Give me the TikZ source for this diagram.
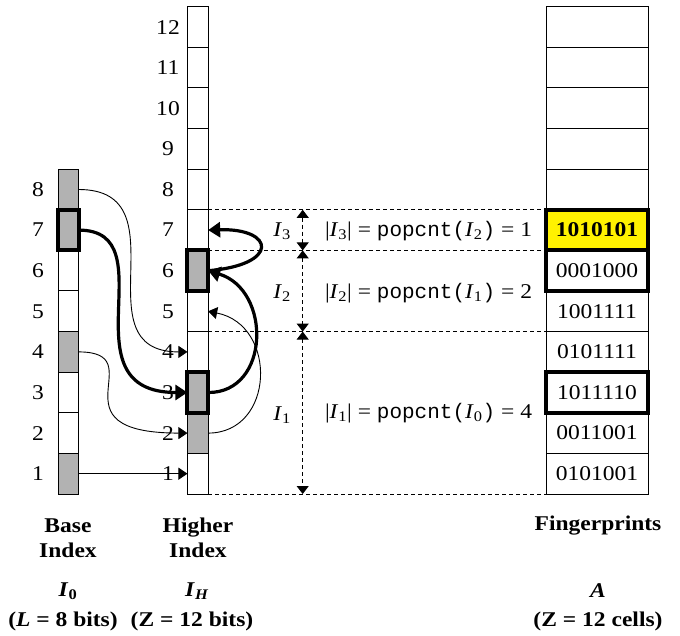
\documentclass[tikz,border=0pt]{standalone}
\usepackage{fontspec}
\setmainfont[FakeStretch=1.12]{Liberation Serif}
\setmonofont{Liberation Mono}
\usetikzlibrary{arrows.meta,calc}
\newcommand{\Ii}[1]{\textit{I}\textsubscript{#1}}
\newcommand{\eqline}[3]{|\Ii{#1}| = \texttt{popcnt(}\Ii{#2}\texttt{)} = #3}
\begin{document}
\begin{tikzpicture}[x=1pt,y=-1pt,
  every node/.style={font=\fontsize{21}{25}\selectfont, inner sep=0pt, outer sep=0pt},
  bfnode/.style={font=\fontsize{21}{25}\selectfont\bfseries, align=center},
  cell/.style={draw=black, line width=1pt, minimum height=40.6pt, anchor=center},
  bcell/.style={cell, minimum width=20.6pt},
  hcell/.style={cell, minimum width=20.7pt},
  fcell/.style={cell, minimum width=102pt},
  thickbox/.style={draw=black, line width=4pt},
  thinarrow/.style={line width=0.9pt, -{Triangle[length=9pt,width=12pt]}},
  thickarrow/.style={line width=3.2pt, -{Triangle[length=12pt,width=15pt]}},
  guide/.style={line width=0.9pt, dash pattern=on 4pt off 3pt},
  span/.style={line width=0.9pt, dash pattern=on 4pt off 3pt,
    {Triangle[length=8pt,width=12pt]}-{Triangle[length=8pt,width=12pt]}}
]
\useasboundingbox (0,0) rectangle (680,636);
\definecolor{cellgray}{gray}{0.7}

% Base index column
\foreach \k/\c in {1/cellgray,2/white,3/white,4/cellgray,5/white,6/white,7/cellgray,8/cellgray}{
  \node[bcell, fill=\c] (b\k) at (68.3, {494-(\k-0.5)*40.6}) {};
  \node (bn\k) at (38, {494-(\k-0.5)*40.6}) {\k};
}
% Higher index column
\foreach \k/\c in {1/white,2/cellgray,3/cellgray,4/white,5/white,6/cellgray,7/white,8/white,9/white,10/white,11/white,12/white}{
  \node[hcell, fill=\c] (h\k) at (197.8, {494-(\k-0.5)*40.6}) {};
  \node (hn\k) at (168, {494-(\k-0.5)*40.6}) {\k};
}
% Fingerprints column
\foreach \k/\t in {1/0101001,2/0011001,3/1011110,4/0101111,5/1001111,6/0001000,8/,9/,10/,11/,12/}{
  \node[fcell] (f\k) at (597, {494-(\k-0.5)*40.6}) {\t};
}
\node[fcell, fill=yellow, font=\fontsize{21}{25}\selectfont\bfseries] (f7) at (597, {494-6.5*40.6}) {1010101};

% highlighted boxes
\draw[thickbox] (b7.south west) rectangle (b7.north east);
\draw[thickbox] (h3.south west) rectangle (h3.north east);
\draw[thickbox] (h6.south west) rectangle (h6.north east);
\draw[thickbox] (f7.south west) rectangle (f7.north east);
\draw[thickbox] (f6.south west) rectangle (f6.north east);
\draw[thickbox] (f3.south west) rectangle (f3.north east);

% dashed guides
\draw[guide] (h7.north east) -- (f7.north west);
\draw[guide] (h6.north east) -- (f6.north west);
\draw[guide] (h4.north east) -- (f4.north west);
\draw[guide] (h1.south east) -- (f1.south west);

% spans
\coordinate (sx) at (302.7,0);
\draw[span] (sx |- h7.north) -- (sx |- h6.north);
\draw[span] (sx |- h6.north) -- (sx |- h4.north);
\draw[span] (sx |- h4.north) -- (sx |- h1.south);

\node (l3) at (282,231) {\Ii{3}};
\node (l2) at (282,293) {\Ii{2}};
\node (l1) at (282,415) {\Ii{1}};
\node[anchor=west] (e3) at (325,231) {\eqline{3}{2}{1}};
\node[anchor=west] (e2) at (325,293) {\eqline{2}{1}{2}};
\node[anchor=west] (e1) at (325,413) {\eqline{1}{0}{4}};

% base -> higher
\draw[thinarrow] (b8.east) .. controls (185,189.5) and (78,352) .. (h4.west);
\draw[thickarrow] (b7.east) .. controls (169,230) and (62,392.5) .. (h3.west);
\draw[thinarrow] (b4.east) .. controls (155,352) and (47,433) .. (h2.west);
\draw[thinarrow] (b1.east) -- (h1.west);

% higher -> higher
\draw[thickarrow] (h3.east) .. controls (270,393) and (272,290) .. (h6.east);
\draw[thickarrow] (h6.east) .. controls (280,265) and (275,228) .. (h7.east);
\draw[thinarrow] (h2.east) .. controls (275,433) and (278,325) .. (h5.east);

% bottom labels
\node[bfnode] (tb) at (68,538) {Base\\Index};
\node[bfnode] (th) at (198,538) {Higher\\Index};
\node[bfnode] (tf) at (598,526) {Fingerprints};
\node[bfnode] (i0) at (68,591) {\textit{I}\textsubscript{0}};
\node[bfnode] (ih) at (197,591) {\textit{I}\textsubscript{\textit{H}}};
\node[bfnode] (ia) at (598,591) {\textit{A}};
\node[bfnode] (s0) at (63,621) {(\textit{L} = 8 bits)};
\node[bfnode] (sh) at (192,621) {(Z = 12 bits)};
\node[bfnode] (sa) at (598,621) {(Z = 12 cells)};
\end{tikzpicture}
\end{document}
